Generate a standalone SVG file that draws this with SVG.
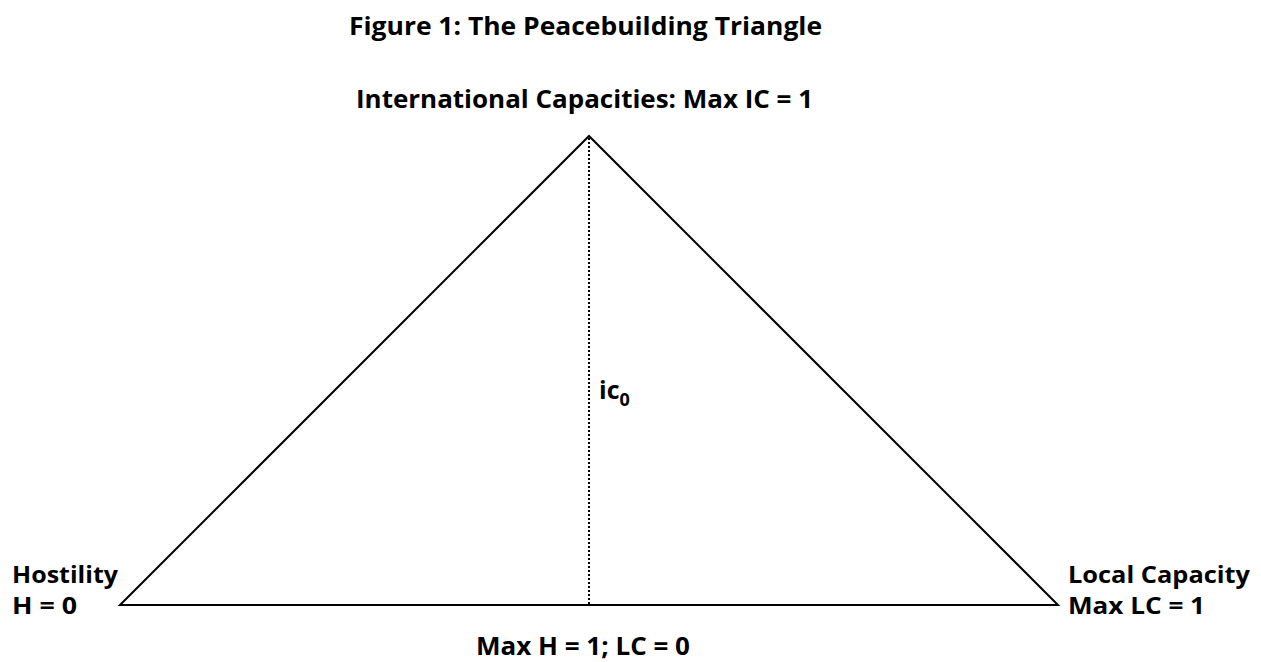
<svg xmlns="http://www.w3.org/2000/svg" width="1261" height="662" viewBox="0 0 1261 662">
<style>
text{font-family:"Open Sans",Lato,"Liberation Sans",sans-serif;font-weight:bold;fill:#000;font-size:25px}
.lbl{font-size:23px}
.edge{fill:none;stroke:#000;stroke-width:2}
.dot{fill:none;stroke:#000;stroke-width:2;stroke-dasharray:2 2}
</style>
<rect width="1261" height="662" fill="#fff"/>
<text x="349" y="35" textLength="473" lengthAdjust="spacingAndGlyphs">Figure 1: The Peacebuilding Triangle</text>
<g id="connectors">
<path class="edge" d="M120,605 L589,136 L1058,605 Z"/>
<line class="dot" x1="589" y1="138" x2="589" y2="605"/>
</g>
<g id="apex"><text x="356" y="108" textLength="457" lengthAdjust="spacingAndGlyphs">International Capacities: Max IC = 1</text></g>
<g id="left"><text class="lbl" x="12" y="583" textLength="106" lengthAdjust="spacingAndGlyphs">Hostility</text><text class="lbl" x="12" y="614" textLength="65" lengthAdjust="spacingAndGlyphs">H = 0</text></g>
<g id="right"><text class="lbl" x="1068" y="583" textLength="182" lengthAdjust="spacingAndGlyphs">Local Capacity</text><text class="lbl" x="1068" y="614" textLength="137" lengthAdjust="spacingAndGlyphs">Max LC = 1</text></g>
<g id="base"><text x="476" y="655" textLength="214" lengthAdjust="spacingAndGlyphs">Max H = 1; LC = 0</text></g>
<g id="ic0"><text x="599" y="399" font-size="26">ic<tspan font-size="18" dy="7">0</tspan></text></g>
</svg>
